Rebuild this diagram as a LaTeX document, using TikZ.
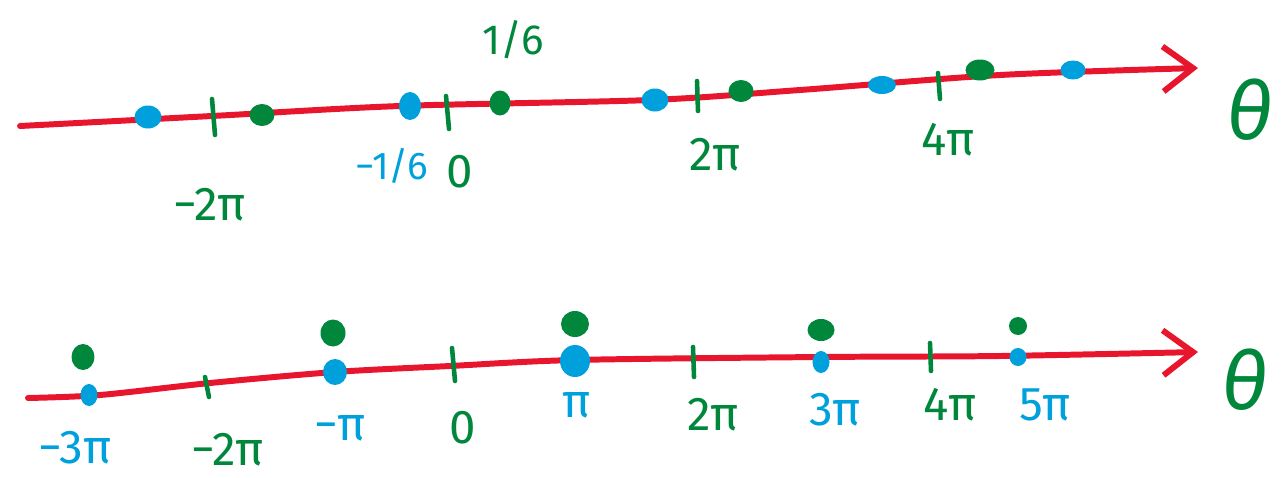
\documentclass[tikz,border=0pt]{standalone}
\usepackage{fontspec}
\setmainfont{Fira Sans}
\usetikzlibrary{arrows.meta,shapes.geometric}
\definecolor{axisred}{RGB}{232,22,45}
\definecolor{pengreen}{RGB}{0,135,60}
\definecolor{penblue}{RGB}{0,160,220}

\begin{document}
\begin{tikzpicture}[
x=0.02cm, y=-0.02cm,
axisline/.style={draw=axisred, line width=3.4pt, line cap=round, -{Straight Barb[length=6mm,width=9mm,line width=3.4pt]}},
tickline/.style={draw=pengreen, line width=2.6pt, line cap=round},
gdot/.style={ellipse, fill=pengreen, inner sep=0pt, minimum width=5mm, minimum height=4.4mm},
bdot/.style={ellipse, fill=penblue, inner sep=0pt, minimum width=5.4mm, minimum height=4.6mm},
smalldot/.style={minimum width=3.4mm, minimum height=3.6mm},
glbl/.style={text=pengreen, font=\fontsize{27}{30}\selectfont, inner sep=0pt},
blbl/.style={text=penblue, font=\fontsize{27}{30}\selectfont, inner sep=0pt},
thetalbl/.style={text=pengreen, font=\fontsize{46}{50}\selectfont\itshape, inner sep=0pt}
]
\useasboundingbox (0,0) rectangle (1285,477);

% upper line
\coordinate (ustart) at (20,126);
\coordinate (uend) at (1198,68);
\draw[axisline] plot[smooth] coordinates {(ustart) (212,116) (400,106) (650,100) (800,90) (1000,75) (uend)};
\draw[tickline] (212,99) -- (215,135);
\draw[tickline] (446,96) -- (449,129);
\draw[tickline] (697,81) -- (698,111);
\draw[tickline] (938,73) -- (940,99);

\node[bdot] (ub1) at (148,117) {};
\node[gdot] (ug1) at (262,115) {};
\node[bdot, minimum width=4.4mm, minimum height=5.6mm] (ub2) at (410,106) {};
\node[gdot, minimum width=4.2mm, minimum height=5mm] (ug2) at (500,103) {};
\node[bdot] (ub3) at (655,100) {};
\node[gdot] (ug3) at (741,91) {};
\node[bdot, minimum width=5.6mm, minimum height=3.6mm] (ub4) at (882,85) {};
\node[gdot, minimum width=5.8mm, minimum height=4.2mm] (ug4) at (980,70) {};
\node[bdot, minimum width=5mm, minimum height=3.8mm] (ub5) at (1073,70) {};

\node[glbl] (um2pi) at (210,205) {−2π};
\node[blbl, font=\fontsize{22}{26}\selectfont] (umsixth) at (392,166) {−1/6};
\node[glbl] (uzero) at (460,172) {0};
\node[glbl, font=\fontsize{24}{28}\selectfont] (usixth) at (513,40) {1/6};
\node[glbl] (u2pi) at (715,155) {2π};
\node[glbl] (u4pi) at (948,140) {4π};
\node[thetalbl] (utheta) at (1250,110) {θ};

% lower line
\coordinate (lstart) at (28,398);
\coordinate (lend) at (1198,352);
\draw[axisline] plot[smooth] coordinates {(lstart) (100,395) (210,383) (335,372) (450,366) (575,360) (820,357) (1000,356) (lend)};
\draw[tickline] (205,377) -- (209,397);
\draw[tickline] (452,348) -- (455,381);
\draw[tickline] (693,347) -- (694,377);
\draw[tickline] (930,343) -- (931,371);

\node[gdot, minimum width=4.6mm, minimum height=5.2mm] (lg1) at (83,357) {};
\node[bdot, smalldot, minimum height=4.4mm] (lb1) at (89,395) {};
\node[gdot, minimum width=5mm, minimum height=5.4mm] (lg2) at (333,333) {};
\node[bdot, minimum width=4.8mm, minimum height=5.2mm] (lb2) at (335,372) {};
\node[gdot, minimum width=5.6mm, minimum height=5.2mm] (lg3) at (575,324) {};
\node[bdot, minimum width=6mm, minimum height=6.4mm] (lb3) at (575,361) {};
\node[gdot, minimum width=5.4mm, minimum height=4.4mm] (lg4) at (821,330) {};
\node[bdot, smalldot, minimum height=4.4mm] (lb4) at (821,362) {};
\node[gdot, minimum width=3.6mm, minimum height=3.6mm] (lg5) at (1018,326) {};
\node[bdot, smalldot] (lb5) at (1018,357) {};

\node[blbl] (lm3pi) at (75,448) {−3π};
\node[glbl] (lm2pi) at (228,450) {−2π};
\node[blbl] (lmpi) at (340,428) {−π};
\node[glbl] (lzero) at (463,428) {0};
\node[blbl] (lpi) at (577,405) {π};
\node[glbl] (l2pi) at (713,415) {2π};
\node[blbl] (l3pi) at (835,410) {3π};
\node[glbl] (l4pi) at (950,405) {4π};
\node[blbl] (l5pi) at (1045,405) {5π};
\node[thetalbl] (ltheta) at (1245,380) {θ};
\end{tikzpicture}
\end{document}
